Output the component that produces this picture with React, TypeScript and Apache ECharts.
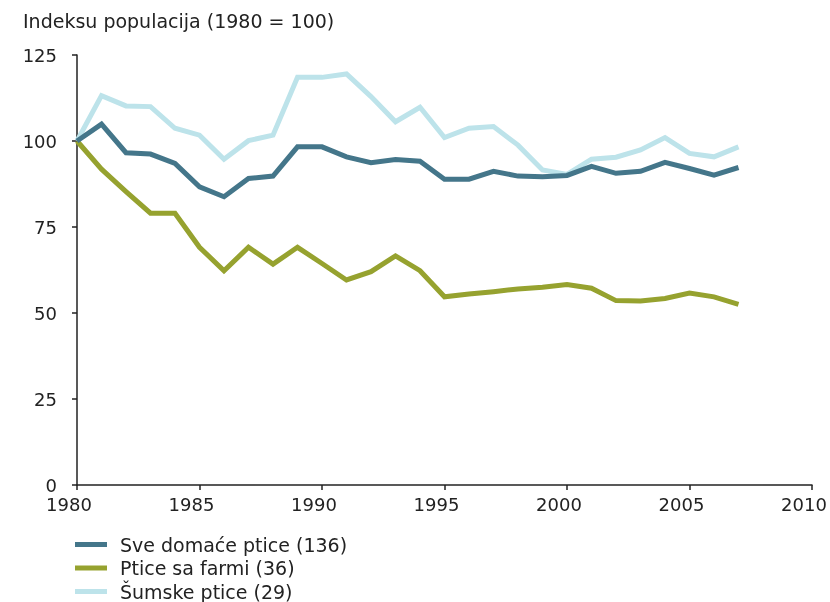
import React, { useEffect, useRef } from "react";
import * as echarts from "echarts";

const years = [1980,1981,1982,1983,1984,1985,1986,1987,1988,1989,1990,1991,1992,1993,1994,1995,1996,1997,1998,1999,2000,2001,2002,2003,2004,2005,2006,2007];
const allBirds = [100,104.9,96.6,96.2,93.5,86.7,83.8,89.1,89.8,98.3,98.3,95.4,93.7,94.6,94.1,88.9,88.9,91.2,89.8,89.6,90.0,92.6,90.6,91.2,93.8,92.0,90.1,92.3];
const farmBirds = [100,91.8,85.3,79.0,79.0,69.1,62.3,69.1,64.2,69.1,64.4,59.6,62.0,66.6,62.3,54.7,55.5,56.2,57.0,57.5,58.3,57.2,53.6,53.5,54.2,55.8,54.7,52.5];
const forestBirds = [100,113.2,110.2,110.0,103.7,101.7,94.7,100.1,101.7,118.5,118.5,119.5,112.9,105.6,109.8,101.0,103.7,104.2,98.8,91.6,90.3,94.7,95.3,97.4,101.0,96.4,95.4,98.3];
const seriesNames = ["Sve domaće ptice (136)", "Ptice sa farmi (36)", "Šumske ptice (29)"];
const colors = ["#44768a", "#96a22f", "#bde3ea"];
const yTicks = [0, 25, 50, 75, 100, 125];
const xTicks = [1980, 1985, 1990, 1995, 2000, 2005, 2010];
const title = "Indeksu populacija (1980 = 100)";

export default function App() {
  const ref = useRef<HTMLDivElement>(null);
  useEffect(() => {
    const chart = echarts.init(ref.current!, null, { renderer: "svg" });
    const font = "DejaVu Sans";
    const fs = 18;
    const data = [allBirds, farmBirds, forestBirds];
    chart.setOption({
      animation: false,
      textStyle: { fontFamily: font },
      title: {
        text: title,
        left: 18,
        top: 6,
        textStyle: { fontFamily: font, fontSize: 19, fontWeight: "normal", color: "#222" },
      },
      grid: { left: 77, right: 18, top: 55, bottom: 117, containLabel: false, outerBoundsMode: "none" },
      xAxis: {
        type: "value",
        min: xTicks[0],
        max: xTicks[xTicks.length - 1],
        interval: 5,
        splitLine: { show: false },
        axisLine: { lineStyle: { color: "#222", width: 1.5 } },
        axisTick: { show: true, length: 5, lineStyle: { color: "#222", width: 1.5 } },
        axisLabel: {
          formatter: (v: number) => String(v),
          fontSize: fs,
          color: "#222",
          margin: 10,
          fontFamily: font,
          padding: [0, 16, 0, 0],
        },
      },
      yAxis: {
        type: "value",
        min: yTicks[0],
        max: yTicks[yTicks.length - 1],
        interval: 25,
        splitLine: { show: false },
        axisLine: { show: true, lineStyle: { color: "#222", width: 1.5 } },
        axisTick: { show: true, length: 5, lineStyle: { color: "#222", width: 1.5 } },
        axisLabel: { fontSize: fs, color: "#222", margin: 20, fontFamily: font },
      },
      legend: {
        orient: "vertical",
        left: 75,
        top: 535,
        height: 90,
        padding: 0,
        icon: "rect",
        itemWidth: 32,
        itemHeight: 5,
        itemGap: 4.5,
        textStyle: { fontSize: 19, color: "#222", fontFamily: font, padding: [0, 0, 0, 8] },
        data: seriesNames,
      },
      series: seriesNames.map((name, i) => ({
        name,
        type: "line",
        data: years.map((y, j) => [y, data[i][j]]),
        showSymbol: false,
        symbol: "none",
        z: 3 - i,
        lineStyle: { color: colors[i], width: 5, join: "miter" },
        itemStyle: { color: colors[i] },
      })),
    });
    return () => chart.dispose();
  }, []);
  return <div ref={ref} style={{ position: "fixed", left: 0, top: 0, width: 830, height: 602 }} />;
}
